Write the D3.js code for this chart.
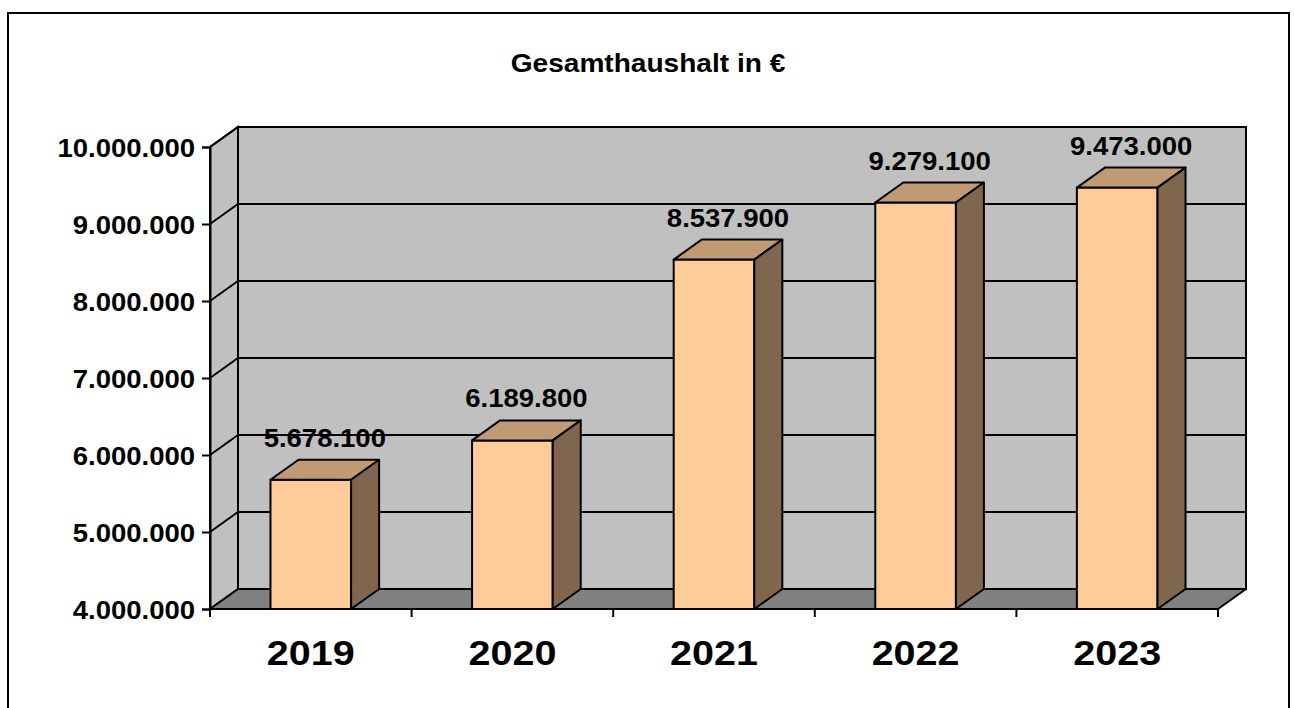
<!DOCTYPE html>
<html>
<head>
<meta charset="utf-8">
<script src="https://cdn.jsdelivr.net/npm/d3@7"></script>
<style>
  body { margin: 0; background: #fff; }
  svg { display: block; font-family: Arial, "Liberation Sans", sans-serif; font-weight: bold; }
</style>
</head>
<body>
<svg id="chart"></svg>
<script>
// Daten
const years = ['2019', '2020', '2021', '2022', '2023'];
const values = [5678100, 6189800, 8537900, 9279100, 9473000];
const yTicks = [4000000, 5000000, 6000000, 7000000, 8000000, 9000000, 10000000];
const title = 'Gesamthaushalt in €';

const width = 1295, height = 708;
const depth = { dx: 28, dy: -20 };  // 3D Tiefe
const plot = { left: 210, right: 1218, top: 147, bottom: 609 };

const de = d3.formatLocale({ decimal: ',', thousands: '.', grouping: [3], currency: ['', '€'] });
const fmt = de.format(',d');

let svg = d3.select('#chart')
    .attr('width', width)
    .attr('height', height);

// Rahmen
svg.append('rect')
    .attr('x', 8).attr('y', 13)
    .attr('width', 1281).attr('height', 720)
    .attr('fill', 'none')
    .attr('stroke', '#000')
    .attr('stroke-width', 2);

// scales
let x = d3.scaleBand()
    .domain(years)
    .range([plot.left, plot.right])
    .paddingInner(0.6)
    .paddingOuter(0.3);

let y = d3.scaleLinear()
    .domain([4000000, 10000000])
    .range([plot.bottom, plot.top]);

const y0 = y.domain()[0], y1 = y.domain()[1];
const pts = a => a.map(p => p.join(',')).join(' ');

// Rückwand
svg.append('polygon')
    .attr('points', pts([
        [plot.left + depth.dx, y(y1) + depth.dy],
        [plot.right + depth.dx, y(y1) + depth.dy],
        [plot.right + depth.dx, y(y0) + depth.dy],
        [plot.left + depth.dx, y(y0) + depth.dy]
    ]))
    .attr('fill', '#c0c0c0')
    .attr('stroke', '#000')
    .attr('stroke-width', 2);

// Seitenwand
svg.append('polygon')
    .attr('points', pts([
        [plot.left, y(y0)],
        [plot.left, y(y1)],
        [plot.left + depth.dx, y(y1) + depth.dy],
        [plot.left + depth.dx, y(y0) + depth.dy]
    ]))
    .attr('fill', '#c0c0c0')
    .attr('stroke', '#000')
    .attr('stroke-width', 2);

// Boden
svg.append('polygon')
    .attr('points', pts([
        [plot.left, y(y0)],
        [plot.right, y(y0)],
        [plot.right + depth.dx, y(y0) + depth.dy],
        [plot.left + depth.dx, y(y0) + depth.dy]
    ]))
    .attr('fill', '#808080')
    .attr('stroke', '#000')
    .attr('stroke-width', 2)
    .attr('stroke-linejoin', 'round');

// Gitterlinien
let grid = svg.append('g')
    .attr('stroke', '#000')
    .attr('stroke-width', 2)
    .attr('fill', 'none');
grid.selectAll('path')
    .data(yTicks.filter(d => d > y0))
    .enter().append('path')
    .attr('d', d => `M${plot.left},${y(d)} L${plot.left + depth.dx},${y(d) + depth.dy} L${plot.right + depth.dx},${y(d) + depth.dy}`);

// y axis
let axis_y = d3.axisLeft(y)
    .tickValues(yTicks)
    .tickSize(8)
    .tickPadding(7)
    .tickFormat(fmt);
let gy = svg.append('g')
    .attr('transform', `translate(${plot.left},0)`)
    .call(axis_y);
gy.select('.domain').attr('stroke-width', 2);
gy.selectAll('.tick line').attr('stroke-width', 2);
gy.selectAll('.tick text')
    .attr('font-size', 25)
    .attr('fill', '#000')
    .attr('font-family', 'Arial, "Liberation Sans", sans-serif')
    .attr('font-weight', 'bold')
    .attr('dy', '0.36em')
    .attr('transform', function () {
        let tx = +d3.select(this).attr('x');
        return `translate(${tx},0) scale(1.1,1) translate(${-tx},0)`;
    });

// x axis (Trennstriche zwischen Kategorien)
let bounds = years.map((d, i) => plot.left + i * x.step()).concat([plot.right]);
svg.append('line')
    .attr('x1', plot.left).attr('x2', plot.right)
    .attr('y1', plot.bottom).attr('y2', plot.bottom)
    .attr('stroke', '#000').attr('stroke-width', 2);
svg.append('g').selectAll('line')
    .data(bounds)
    .enter().append('line')
    .attr('x1', d => d).attr('x2', d => d)
    .attr('y1', plot.bottom).attr('y2', plot.bottom + 8)
    .attr('stroke', '#000').attr('stroke-width', 2);

svg.append('g').selectAll('text')
    .data(years)
    .enter().append('text')
    .attr('transform', d => `translate(${x(d) + x.bandwidth() / 2},665) scale(1.13,1)`)
    .attr('text-anchor', 'middle')
    .attr('font-size', 35)
    .text(d => d);

// Säulen
let bars = svg.append('g')
    .selectAll('g')
    .data(years.map((d, i) => ({ year: d, value: values[i] })))
    .enter().append('g')
    .attr('stroke', '#000')
    .attr('stroke-width', 2)
    .attr('stroke-linejoin', 'round');

bars.append('rect')
    .attr('x', d => x(d.year))
    .attr('y', d => y(d.value))
    .attr('width', x.bandwidth())
    .attr('height', d => y(y0) - y(d.value))
    .attr('fill', '#ffcc99');

bars.append('polygon')  // Oberseite
    .attr('points', d => {
        let l = x(d.year), r = l + x.bandwidth(), t = y(d.value);
        return pts([[l, t], [r, t], [r + depth.dx, t + depth.dy], [l + depth.dx, t + depth.dy]]);
    })
    .attr('fill', '#c09a72');

bars.append('polygon')  // Seite
    .attr('points', d => {
        let r = x(d.year) + x.bandwidth(), t = y(d.value), b = y(y0);
        return pts([[r, t], [r + depth.dx, t + depth.dy], [r + depth.dx, b + depth.dy], [r, b]]);
    })
    .attr('fill', '#80664c');

// Werte
svg.append('g').selectAll('text')
    .data(years.map((d, i) => ({ year: d, value: values[i] })))
    .enter().append('text')
    .attr('transform', d => `translate(${x(d.year) + x.bandwidth() / 2 + depth.dx / 2},${y(d.value) + depth.dy - 13}) scale(1.1,1)`)
    .attr('text-anchor', 'middle')
    .attr('font-size', 25)
    .text(d => fmt(d.value));

// Titel
svg.append('text')
    .attr('transform', 'translate(648,72) scale(1.08,1)')
    .attr('text-anchor', 'middle')
    .attr('font-size', 26)
    .text(title);
</script>
</body>
</html>
